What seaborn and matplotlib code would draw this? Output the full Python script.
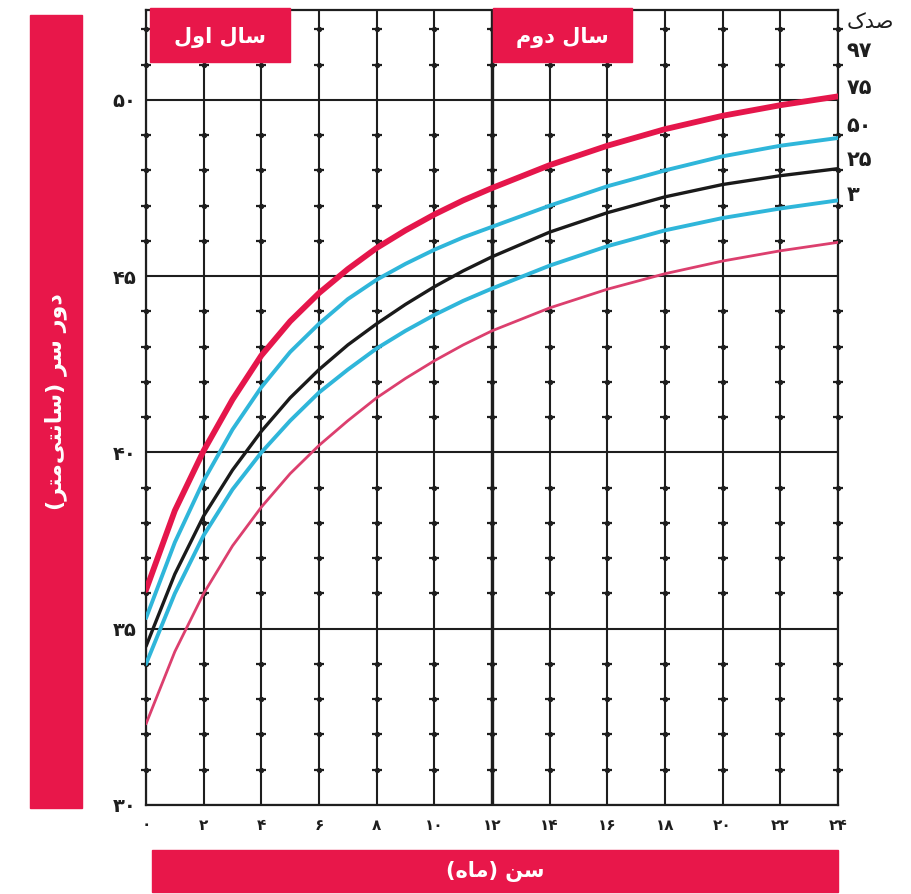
import matplotlib
matplotlib.use("Agg")
import matplotlib.pyplot as plt
from matplotlib.patches import Rectangle
import pandas as pd
import seaborn as sns

# age in months
months = [0, 1, 2, 3, 4, 5, 6, 7, 8, 9, 10, 11, 12, 14, 16, 18, 20, 22, 24]

# head circumference (cm)
p97 = [36.1, 38.35, 40.05, 41.5, 42.75, 43.72, 44.52, 45.2, 45.8, 46.3, 46.75, 47.15, 47.5,
       48.15, 48.7, 49.17, 49.55, 49.85, 50.1]
p75 = [35.3, 37.45, 39.2, 40.65, 41.85, 42.85, 43.65, 44.35, 44.9, 45.35, 45.75, 46.1, 46.4,
       47.0, 47.55, 48.0, 48.4, 48.7, 48.92]
p50 = [34.5, 36.55, 38.2, 39.5, 40.6, 41.55, 42.35, 43.05, 43.65, 44.2, 44.7, 45.15, 45.55,
       46.25, 46.8, 47.25, 47.6, 47.85, 48.05]
p25 = [34.0, 36.0, 37.65, 38.95, 40.0, 40.9, 41.7, 42.35, 42.95, 43.45, 43.9, 44.3, 44.65,
       45.3, 45.85, 46.3, 46.65, 46.92, 47.15]
p3 = [32.3, 34.35, 36.0, 37.35, 38.45, 39.4, 40.2, 40.9, 41.55, 42.1, 42.6, 43.05, 43.45,
      44.1, 44.63, 45.07, 45.43, 45.72, 45.96]

x_ticks = [0, 2, 4, 6, 8, 10, 12, 14, 16, 18, 20, 22, 24]
x_tick_labels = ["۰", "۲", "۴", "۶", "۸", "۱۰", "۱۲", "۱۴", "۱۶", "۱۸", "۲۰", "۲۲", "۲۴"]
y_ticks = [30, 35, 40, 45, 50]
y_tick_labels = ["۳۰", "۳۵", "۴۰", "۴۵", "۵۰"]
cm_marks = [c for c in range(31, 53) if c % 5 != 0]

# Persian strings, already shaped and in visual (left-to-right) order
title_pct = "\uFB8E\uFEAA\uFEBB"                                   # صدک
year1 = "\uFEDD\uFEED\uFE8D \uFEDD\uFE8E\uFEB3"                    # سال اول
year2 = "\uFEE1\uFEED\uFEA9 \uFEDD\uFE8E\uFEB3"                    # سال دوم
xlabel = "(\uFEE9\uFE8E\uFEE3) \uFEE6\uFEB3"                        # سن (ماه)
ylabel = ("(\uFEAE\uFE98\uFEE3\uFBFD\uFE98\uFEE7\uFE8E\uFEB3) "
          "\uFEAE\uFEB3 \uFEAD\uFEED\uFEA9")                        # دور سر (سانتی‌متر)
pct_names = ["۹۷", "۷۵", "۵۰", "۲۵", "۳"]

df = pd.DataFrame({
    "month": months * 5,
    "cm": p97 + p75 + p50 + p25 + p3,
    "pct": sum([[n] * len(months) for n in ["97", "75", "50", "25", "3"]], []),
})

palette = {"97": "#E5164B", "75": "#2FB6DA", "50": "#1A1A1A", "25": "#2FB6DA", "3": "#DC3F6E"}
widths = {"97": 4.2, "75": 2.8, "50": 2.4, "25": 2.8, "3": 2.0}

sns.set_style("white")
plt.rcParams["font.family"] = ["DejaVu Sans"]

W, H = 911, 894
fig = plt.figure(figsize=(W / 100, H / 100), dpi=100)
ax = fig.add_axes([146 / W, 1 - 805 / H, (838 - 146) / W, (805 - 10) / H])

def fx(px):
    return px / W

def fy(py):
    return 1 - py / H

red = "#E8174A"
ink = "#1E1E1E"

sns.lineplot(data=df, x="month", y="cm", hue="pct", palette=palette,
             size="pct", sizes=widths, estimator=None, sort=False,
             legend=False, ax=ax, zorder=4)
for ln in ax.get_lines():
    ln.set_solid_joinstyle("round")
    ln.set_solid_capstyle("round")

ax.set_xlim(0, 24)
ax.set_ylim(30, 52.55)
ax.set_xticks(x_ticks)
ax.set_xticklabels(x_tick_labels, fontsize=11, fontweight="bold", color=ink)
ax.set_yticks(y_ticks)
ax.set_yticklabels(y_tick_labels, fontsize=14, fontweight="bold", color=ink)
ax.tick_params(axis="x", length=0, pad=9)
ax.tick_params(axis="y", length=5, width=1.5, color=ink, pad=2)
ax.set_xlabel("")
ax.set_ylabel("")
ax.grid(True, color=ink, lw=1.5)
ax.axvline(12, color=ink, lw=2.4, zorder=2)
for s in ax.spines.values():
    s.set_color(ink)
    s.set_linewidth(1.6)

# small cross marks at every centimetre on each vertical line
mx = [x for x in x_ticks for _ in cm_marks]
my = cm_marks * len(x_ticks)
ax.scatter(mx, my, marker="_", s=55, linewidths=1.6, color=ink, zorder=3, clip_on=False)
ax.scatter(mx, my, marker="o", s=8, color=ink, zorder=3, clip_on=False)

# percentile labels at the right
ax.text(1.012, 52.2, title_pct, transform=ax.get_yaxis_transform(), fontsize=15,
        color=ink, va="center", ha="left")
for name, yv in zip(pct_names, [51.4, 50.35, 49.25, 48.3, 47.3]):
    ax.text(1.012, yv, name, transform=ax.get_yaxis_transform(), fontsize=15,
            fontweight="bold", color=ink, va="center", ha="left")

# red label bars
def red_box(x0, y0, x1, y1):
    fig.add_artist(Rectangle((fx(x0), fy(y1)), fx(x1) - fx(x0), fy(y0) - fy(y1),
                             transform=fig.transFigure, color=red, zorder=10))

red_box(150, 8, 290, 62)
red_box(493, 8, 632, 62)
red_box(30, 15, 82, 808)
red_box(152, 850, 838, 892)

fig.text(fx(220), fy(37), year1, color="white", fontsize=15, fontweight="bold",
         ha="center", va="center", zorder=11)
fig.text(fx(562), fy(37), year2, color="white", fontsize=15, fontweight="bold",
         ha="center", va="center", zorder=11)
fig.text(fx(495), fy(871), xlabel, color="white", fontsize=15, fontweight="bold",
         ha="center", va="center", zorder=11)
fig.text(fx(56), fy(402), ylabel, color="white", fontsize=16, fontweight="bold",
         ha="center", va="center", rotation=90, zorder=11)

fig.savefig("out.png", dpi=100)
